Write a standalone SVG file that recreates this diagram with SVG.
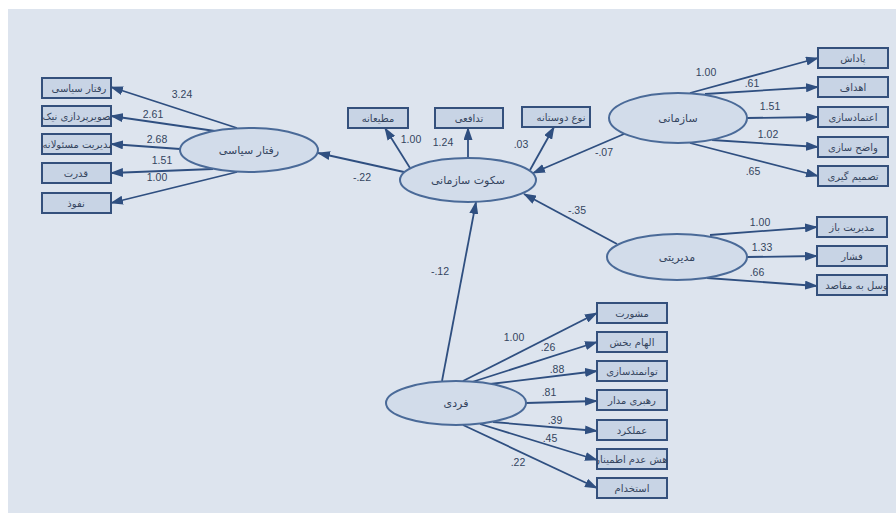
<svg xmlns="http://www.w3.org/2000/svg" width="896" height="513" viewBox="0 0 896 513">
<style>
.bx{fill:#c8d4e5;stroke:#34507c;stroke-width:2}
.el{fill:#d2dcea;stroke:#4a6a98;stroke-width:2}
.ln{stroke:#2f4f80;stroke-width:1.8;fill:none;marker-end:url(#ah)}
.t{font-family:"DejaVu Sans",sans-serif;font-size:10px;fill:#34445e;text-anchor:middle;dominant-baseline:central}
.te{font-family:"DejaVu Sans",sans-serif;font-size:11px;fill:#34445e;text-anchor:middle;dominant-baseline:central}
.n{font-family:"Liberation Sans",Arial,sans-serif;font-size:10.5px;fill:#34445e;text-anchor:middle}
</style>
<defs>
<marker id="ah" markerWidth="13" markerHeight="9" refX="12" refY="4.5" orient="auto" markerUnits="userSpaceOnUse">
<path d="M0,0 L13,4.5 L0,9 z" fill="#2f4f80"/>
</marker>
<clipPath id="cL"><rect x="42" y="70" width="69" height="150"/></clipPath>
<clipPath id="cR1"><rect x="818" y="40" width="70" height="150"/></clipPath>
<clipPath id="cR2"><rect x="817" y="210" width="70" height="90"/></clipPath>
<clipPath id="cB"><rect x="597" y="295" width="70" height="210"/></clipPath>
<clipPath id="cT"><rect x="522" y="100" width="68" height="30"/></clipPath>
</defs>
<rect x="0" y="0" width="896" height="513" fill="#ffffff"/>
<rect x="8" y="9" width="888" height="504" fill="#dde4ee"/>

<g id="connectors">
<line class="ln" x1="237" y1="128" x2="111" y2="87"/>
<line class="ln" x1="215" y1="131" x2="111" y2="116"/>
<line class="ln" x1="180" y1="149" x2="111" y2="144"/>
<line class="ln" x1="213" y1="169" x2="111" y2="173"/>
<line class="ln" x1="237" y1="172" x2="111" y2="203"/>
<line class="ln" x1="404" y1="172" x2="318" y2="153"/>
<line class="ln" x1="410" y1="168" x2="385" y2="128"/>
<line class="ln" x1="468" y1="158" x2="468" y2="128"/>
<line class="ln" x1="530" y1="170" x2="554" y2="127"/>
<line class="ln" x1="690" y1="93" x2="818" y2="58"/>
<line class="ln" x1="705" y1="94" x2="818" y2="87"/>
<line class="ln" x1="747" y1="118" x2="818" y2="117"/>
<line class="ln" x1="712" y1="140" x2="818" y2="147"/>
<line class="ln" x1="690" y1="143" x2="818" y2="176"/>
<line class="ln" x1="624" y1="134" x2="533" y2="173"/>
<line class="ln" x1="710" y1="235" x2="817" y2="227"/>
<line class="ln" x1="747" y1="257" x2="817" y2="256"/>
<line class="ln" x1="707" y1="278" x2="817" y2="286"/>
<line class="ln" x1="617" y1="244" x2="524" y2="194"/>
<line class="ln" x1="463" y1="381" x2="597" y2="313"/>
<line class="ln" x1="472" y1="382" x2="597" y2="342"/>
<line class="ln" x1="490" y1="384" x2="597" y2="371"/>
<line class="ln" x1="526" y1="403" x2="597" y2="401"/>
<line class="ln" x1="493" y1="422" x2="597" y2="431"/>
<line class="ln" x1="480" y1="424" x2="597" y2="460"/>
<line class="ln" x1="463" y1="425" x2="597" y2="488"/>
<line class="ln" x1="442" y1="381" x2="476" y2="202"/>
<text class="n" x="182" y="98">3.24</text>
<text class="n" x="153" y="118">2.61</text>
<text class="n" x="157" y="143">2.68</text>
<text class="n" x="162" y="164">1.51</text>
<text class="n" x="157" y="181">1.00</text>
<text class="n" x="362" y="181">-.22</text>
<text class="n" x="411" y="143">1.00</text>
<text class="n" x="443" y="146">1.24</text>
<text class="n" x="521" y="148">.03</text>
<text class="n" x="706" y="76">1.00</text>
<text class="n" x="752" y="87">.61</text>
<text class="n" x="770" y="110">1.51</text>
<text class="n" x="768" y="138">1.02</text>
<text class="n" x="753" y="175">.65</text>
<text class="n" x="604" y="156">-.07</text>
<text class="n" x="577" y="214">-.35</text>
<text class="n" x="760" y="226">1.00</text>
<text class="n" x="762" y="251">1.33</text>
<text class="n" x="757" y="276">.66</text>
<text class="n" x="440" y="275">-.12</text>
<text class="n" x="514" y="341">1.00</text>
<text class="n" x="548" y="351">.26</text>
<text class="n" x="557" y="373">.88</text>
<text class="n" x="549" y="396">.81</text>
<text class="n" x="555" y="424">.39</text>
<text class="n" x="550" y="442">.45</text>
<text class="n" x="518" y="466">.22</text>
</g>

<g id="n-political"><ellipse class="el" cx="249" cy="150" rx="69" ry="22"/><text class="te" x="249" y="150">رفتار سیاسی</text></g>
<g id="n-silence"><ellipse class="el" cx="468" cy="180" rx="68" ry="22"/><text class="te" x="468" y="180">سکوت سازمانی</text></g>
<g id="n-org"><ellipse class="el" cx="678" cy="118" rx="69" ry="25"/><text class="te" x="678" y="118">سازمانی</text></g>
<g id="n-mgmt"><ellipse class="el" cx="677" cy="257" rx="70" ry="23"/><text class="te" x="677" y="257">مدیریتی</text></g>
<g id="n-indiv"><ellipse class="el" cx="456" cy="403" rx="70" ry="22"/><text class="te" x="456" y="403">فردی</text></g>

<g id="b-l1"><rect class="bx" x="42" y="78" width="69" height="20"/><text class="t" x="79" y="88" clip-path="url(#cL)">رفتار سیاسی</text></g>
<g id="b-l2"><rect class="bx" x="42" y="106" width="69" height="20"/><text class="t" x="78" y="116" clip-path="url(#cL)">تصویرپردازی نیک</text></g>
<g id="b-l3"><rect class="bx" x="42" y="134" width="69" height="20"/><text class="t" x="78" y="144" clip-path="url(#cL)">مدیریت مسئولانه</text></g>
<g id="b-l4"><rect class="bx" x="42" y="163" width="69" height="20"/><text class="t" x="76" y="173">قدرت</text></g>
<g id="b-l5"><rect class="bx" x="42" y="193" width="69" height="20"/><text class="t" x="76" y="203">نفوذ</text></g>

<g id="b-t1"><rect class="bx" x="348" y="108" width="60" height="20"/><text class="t" x="378" y="118">مطیعانه</text></g>
<g id="b-t2"><rect class="bx" x="435" y="108" width="68" height="20"/><text class="t" x="469" y="118">تدافعی</text></g>
<g id="b-t3"><rect class="bx" x="522" y="107" width="68" height="20"/><text class="t" x="561" y="117" clip-path="url(#cT)">نوع دوستانه</text></g>

<g id="b-r1"><rect class="bx" x="818" y="48" width="70" height="20"/><text class="t" x="853" y="58">پاداش</text></g>
<g id="b-r2"><rect class="bx" x="818" y="77" width="70" height="20"/><text class="t" x="853" y="87">اهداف</text></g>
<g id="b-r3"><rect class="bx" x="818" y="107" width="70" height="20"/><text class="t" x="853" y="117" clip-path="url(#cR1)">اعتمادسازی</text></g>
<g id="b-r4"><rect class="bx" x="818" y="137" width="70" height="20"/><text class="t" x="853" y="147" clip-path="url(#cR1)">واضح سازی</text></g>
<g id="b-r5"><rect class="bx" x="818" y="166" width="70" height="20"/><text class="t" x="853" y="176" clip-path="url(#cR1)">تصمیم گیری</text></g>

<g id="b-m1"><rect class="bx" x="817" y="217" width="70" height="20"/><text class="t" x="852" y="227">مدیریت باز</text></g>
<g id="b-m2"><rect class="bx" x="817" y="246" width="70" height="20"/><text class="t" x="852" y="256">فشار</text></g>
<g id="b-m3"><rect class="bx" x="817" y="275" width="70" height="20"/><text class="t" x="858" y="285" clip-path="url(#cR2)">توسل به مقاصد</text></g>

<g id="b-i1"><rect class="bx" x="597" y="303" width="70" height="20"/><text class="t" x="632" y="313">مشورت</text></g>
<g id="b-i2"><rect class="bx" x="597" y="332" width="70" height="20"/><text class="t" x="632" y="342">الهام بخش</text></g>
<g id="b-i3"><rect class="bx" x="597" y="361" width="70" height="20"/><text class="t" x="632" y="371" clip-path="url(#cB)">توانمندسازی</text></g>
<g id="b-i4"><rect class="bx" x="597" y="390" width="70" height="20"/><text class="t" x="632" y="400" clip-path="url(#cB)">رهبری مدار</text></g>
<g id="b-i5"><rect class="bx" x="597" y="420" width="70" height="20"/><text class="t" x="632" y="430">عملکرد</text></g>
<g id="b-i6"><rect class="bx" x="597" y="449" width="70" height="20"/><text class="t" x="634" y="459" clip-path="url(#cB)">کاهش عدم اطمینان</text></g>
<g id="b-i7"><rect class="bx" x="597" y="478" width="70" height="20"/><text class="t" x="632" y="488">استخدام</text></g>
</svg>
